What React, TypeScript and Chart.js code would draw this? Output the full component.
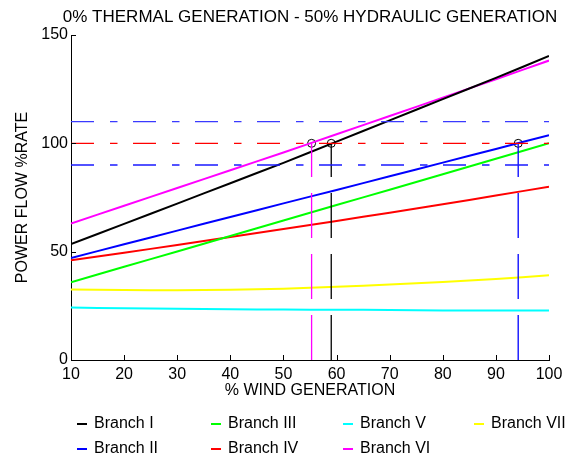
import React, { useEffect, useRef } from "react";
import { Chart, registerables } from "chart.js";

Chart.register(...registerables);

const windGen = [10, 20, 30, 40, 50, 60, 70, 80, 90, 100];

const branchNames = ["Branch I", "Branch II", "Branch III", "Branch IV", "Branch V", "Branch VI", "Branch VII"];
const branchColors = ["#000000", "#0000ff", "#00ff00", "#ff0000", "#00ffff", "#ff00ff", "#ffff00"];

const branchI = [53.5, 62.8, 72.2, 81.6, 91.0, 100.8, 110.6, 120.4, 130.2, 140.3];
const branchII = [47.1, 53.4, 59.7, 66.0, 72.3, 78.5, 84.8, 91.1, 97.4, 103.8];
const branchIII = [35.9, 43.0, 50.1, 57.2, 64.4, 71.5, 78.6, 85.7, 92.9, 100.1];
const branchIV = [46.0, 49.5, 53.1, 56.8, 60.5, 64.2, 68.0, 71.9, 75.9, 80.0];
const branchV = [24.2, 23.9, 23.6, 23.4, 23.3, 23.2, 23.1, 22.9, 22.8, 22.8];
const branchVI = [63.0, 71.2, 79.4, 87.6, 95.8, 104.2, 112.6, 121.1, 129.6, 138.2];
const branchVII = [32.5, 32.3, 32.2, 32.4, 32.9, 33.8, 34.8, 36.0, 37.4, 39.1];

const branchValues = [branchI, branchII, branchIII, branchIV, branchV, branchVI, branchVII];

// Limit lines (rated power flow limits)
const limitLevels = [110, 100, 90];
const limitColors = ["#3a3aff", "#ff0000", "#1a1aff"];

// Crossing points of 100% rate
const crossX = [55.3, 59.0, 94.2];
const crossY = [100, 100, 100];
const crossColors = ["#ff00ff", "#000000", "#0000ff"];

const xTicks = [10, 20, 30, 40, 50, 60, 70, 80, 90, 100];
const yTicks = [0, 50, 100, 150];

const titleText = "0% THERMAL GENERATION - 50% HYDRAULIC GENERATION";
const xTitle = "% WIND GENERATION";
const yTitle = "POWER FLOW %RATE";

const FONT = "'Liberation Sans', Arial, sans-serif";

export default function App() {
  const ref = useRef<HTMLCanvasElement | null>(null);

  useEffect(() => {
    if (!ref.current) return;

    const datasets: any[] = [];

    limitLevels.forEach((lv, i) => {
      datasets.push({
        label: "limit" + i,
        data: [
          { x: windGen[0], y: lv },
          { x: windGen[windGen.length - 1], y: lv },
        ],
        borderColor: limitColors[i],
        borderWidth: 1.3,
        borderDash: [23, 16, 7.5, 15.5],
        pointRadius: 0,
        tension: 0,
        fill: false,
      });
    });

    crossX.forEach((cx, i) => {
      datasets.push({
        label: "cross" + i,
        data: [
          { x: cx, y: 0 },
          { x: cx, y: crossY[i] },
        ],
        borderColor: crossColors[i],
        borderWidth: 1.3,
        borderDash: [45, 16],
        pointRadius: 0,
        tension: 0,
        fill: false,
      });
    });

    branchNames.forEach((name, i) => {
      datasets.push({
        label: name,
        data: windGen.map((x, j) => ({ x, y: branchValues[i][j] })),
        borderColor: branchColors[i],
        backgroundColor: branchColors[i],
        borderWidth: 2,
        pointRadius: 0,
        tension: 0.2,
        fill: false,
      });
    });

    datasets.push({
      type: "scatter",
      label: "points",
      data: crossX.map((x, i) => ({ x, y: crossY[i] })),
      showLine: false,
      pointRadius: 4,
      pointBorderColor: "#000000",
      pointBackgroundColor: "rgba(0,0,0,0)",
      pointBorderWidth: 1,
    });

    const decorPlugin = {
      id: "decor",
      afterDraw(chart: any) {
        const ctx = chart.ctx;
        const ca = chart.chartArea;
        const xs = chart.scales.x;
        const ys = chart.scales.y;
        ctx.save();
        // inward ticks
        ctx.strokeStyle = "#000";
        ctx.lineWidth = 1;
        ctx.beginPath();
        xTicks.forEach((t) => {
          const px = Math.round(xs.getPixelForValue(t)) + 0.5;
          ctx.moveTo(px, ca.bottom);
          ctx.lineTo(px, ca.bottom - 5);
        });
        yTicks.forEach((t) => {
          const py = Math.round(ys.getPixelForValue(t)) + 0.5;
          ctx.moveTo(ca.left, py);
          ctx.lineTo(ca.left + 5, py);
        });
        ctx.stroke();

        // title
        ctx.fillStyle = "#000";
        ctx.font = "17px " + FONT;
        ctx.textAlign = "center";
        ctx.textBaseline = "middle";
        ctx.fillText(titleText, (ca.left + ca.right) / 2, 17);

        // legend (column-major, 2 rows)
        ctx.font = "16px " + FONT;
        const colX = [77, 211, 343, 474];
        const rowY = [424, 449];
        ctx.textAlign = "left";
        branchNames.forEach((name, i) => {
          const col = Math.floor(i / 2);
          const row = i % 2;
          const x0 = colX[col];
          const y0 = rowY[row];
          ctx.strokeStyle = branchColors[i];
          ctx.lineWidth = 2;
          ctx.beginPath();
          ctx.moveTo(x0, y0);
          ctx.lineTo(x0 + 10, y0);
          ctx.stroke();
          ctx.fillStyle = "#000";
          ctx.fillText(name, x0 + 17, y0);
        });
        ctx.restore();
      },
    };

    const chart = new Chart(ref.current, {
      type: "line",
      data: { datasets },
      options: {
        animation: false,
        responsive: false,
        devicePixelRatio: 1,
        layout: { padding: { top: 35, right: 23, bottom: 59, left: 0 } },
        plugins: {
          legend: { display: false },
          title: { display: false },
          tooltip: { enabled: false },
        },
        scales: {
          x: {
            type: "linear",
            min: 10,
            max: 100,
            afterFit: (s: any) => {
              s.height = 40;
            },
            afterBuildTicks: (s: any) => {
              s.ticks = xTicks.map((v) => ({ value: v }));
            },
            ticks: {
              color: "#000",
              font: { size: 16, family: FONT },
              padding: 5,
              maxRotation: 0,
              autoSkip: false,
            },
            grid: { display: false, drawTicks: false },
            border: { display: true, color: "#000", width: 1 },
            title: {
              display: true,
              text: xTitle,
              color: "#000",
              font: { size: 16, family: FONT },
              padding: { top: 0, bottom: 0 },
            },
          },
          y: {
            type: "linear",
            min: 0,
            max: 150,
            afterFit: (s: any) => {
              s.width = 71;
            },
            afterBuildTicks: (s: any) => {
              s.ticks = yTicks.map((v) => ({ value: v }));
            },
            ticks: {
              color: "#000",
              font: { size: 16, family: FONT },
              padding: 3,
            },
            grid: { display: false, drawTicks: false },
            border: { display: true, color: "#000", width: 1 },
            title: {
              display: true,
              text: yTitle,
              color: "#000",
              font: { size: 16, family: FONT },
              padding: { top: 13, bottom: 0 },
            },
          },
        },
      },
      plugins: [decorPlugin],
    } as any);

    return () => chart.destroy();
  }, []);

  return (
    <div style={{ position: "absolute", left: 0, top: 0, width: 572, height: 459, background: "#fff" }}>
      <canvas ref={ref} width={572} height={459} />
    </div>
  );
}
